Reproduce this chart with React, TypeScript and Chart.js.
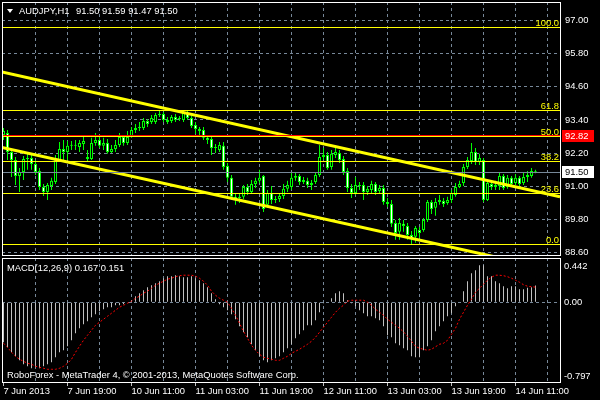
import React, { useEffect, useRef } from "react";
import { Chart, registerables } from "chart.js";

Chart.register(...registerables);

const FONT = "'Liberation Sans', Arial, sans-serif";
const FS = 9.4;

const symbolTitle = "AUDJPY,H1";

// H1 candles, 7 Jun 2013 03:00 ... 14 Jun 2013
const openP = [
  92.85, 92.93, 92.24, 91.95, 91.37, 91.51, 91.98, 92.02, 91.80, 91.55,
  90.97, 90.79, 91.00, 91.15, 91.95, 92.35, 92.24, 92.46, 92.46, 92.42,
  92.53, 92.06, 91.98, 92.56, 92.67, 92.46, 92.56, 92.24, 92.35, 92.49,
  92.78, 92.56, 92.82, 93.04, 93.11, 93.11, 93.36, 93.33, 93.33, 93.58,
  93.62, 93.40, 93.36, 93.51, 93.43, 93.40, 93.65, 93.47, 93.22, 93.07,
  93.04, 92.75, 92.71, 92.38, 92.31, 92.46, 91.73, 91.30, 90.61, 90.57,
  90.61, 90.97, 90.79, 91.08, 91.19, 91.37, 90.32, 90.75, 90.50, 90.53,
  90.64, 90.90, 90.97, 91.30, 91.37, 91.15, 91.19, 91.04, 91.15, 91.40,
  92.06, 92.13, 91.69, 92.13, 92.20, 91.98, 91.55, 90.93, 90.75, 91.04,
  91.04, 90.79, 90.86, 91.08, 90.82, 90.93, 90.42, 90.35, 89.66, 89.34,
  89.63, 89.55, 89.23, 89.16, 89.41, 89.41, 89.77, 90.42, 90.21, 90.42,
  90.46, 90.39, 90.50, 90.68, 90.97, 91.11, 91.69, 91.91, 92.24, 91.88,
  91.95, 90.50, 91.08, 90.97, 91.00, 91.37, 90.97, 91.30, 91.11, 91.30,
  91.11, 91.33, 91.37, 91.50,
];
const highP = [
  93.11, 93.04, 92.31, 92.06, 91.66, 92.09, 92.24, 92.13, 91.95, 91.66,
  91.08, 91.11, 91.30, 92.13, 92.60, 92.67, 92.64, 92.64, 92.67, 92.67,
  92.78, 92.31, 92.75, 92.93, 92.78, 92.75, 92.71, 92.49, 92.67, 92.93,
  92.85, 93.00, 93.14, 93.25, 93.33, 93.47, 93.43, 93.58, 93.65, 93.76,
  93.69, 93.51, 93.58, 93.62, 93.54, 93.73, 93.76, 93.54, 93.33, 93.14,
  93.14, 92.85, 92.78, 92.53, 92.60, 92.60, 91.84, 91.40, 90.75, 90.71,
  91.04, 91.08, 91.22, 91.30, 91.59, 91.40, 90.86, 91.00, 90.64, 90.75,
  91.08, 91.19, 91.51, 91.51, 91.44, 91.33, 91.30, 91.22, 91.51, 92.49,
  92.38, 92.24, 92.31, 92.38, 92.31, 92.09, 91.66, 91.08, 91.33, 91.15,
  91.15, 91.00, 91.19, 91.15, 91.04, 91.04, 90.57, 90.50, 89.77, 89.84,
  89.77, 89.66, 89.37, 89.55, 89.52, 89.84, 90.50, 90.50, 90.57, 90.68,
  90.57, 90.61, 90.86, 91.11, 91.19, 91.80, 92.06, 92.56, 92.38, 92.17,
  92.02, 91.22, 91.22, 91.19, 91.48, 91.44, 91.40, 91.37, 91.44, 91.37,
  91.51, 91.55, 91.66, 91.59,
];
const lowP = [
  92.67, 91.95, 91.33, 91.04, 90.79, 91.22, 91.59, 91.59, 91.40, 90.86,
  90.64, 90.50, 90.86, 91.08, 91.88, 91.95, 91.95, 92.31, 92.31, 92.24,
  92.31, 91.88, 91.95, 92.46, 92.38, 92.31, 92.17, 92.20, 92.24, 92.42,
  92.46, 92.49, 92.75, 92.93, 93.00, 93.04, 93.14, 93.25, 93.25, 93.51,
  93.33, 93.25, 93.29, 93.33, 93.36, 93.33, 93.40, 93.11, 92.89, 92.85,
  92.67, 92.53, 92.13, 92.20, 92.24, 91.59, 91.15, 90.50, 90.32, 90.39,
  90.53, 90.68, 90.71, 90.93, 91.11, 90.06, 90.21, 90.35, 90.39, 90.42,
  90.53, 90.79, 90.86, 91.19, 91.04, 91.08, 90.93, 90.86, 91.08, 91.33,
  91.95, 91.59, 91.59, 92.02, 91.84, 91.40, 90.79, 90.57, 90.68, 90.86,
  90.50, 90.68, 90.75, 90.68, 90.75, 90.32, 90.24, 89.52, 89.05, 89.05,
  89.34, 89.05, 88.90, 88.94, 89.12, 89.34, 89.70, 89.99, 89.92, 90.32,
  90.24, 90.32, 90.39, 90.61, 90.93, 91.00, 91.62, 91.80, 91.77, 91.77,
  90.42, 90.46, 90.86, 90.86, 90.86, 90.86, 90.90, 91.00, 91.04, 91.00,
  91.04, 91.15, 91.30, 91.47,
];
const closeP = [
  93.00, 92.24, 91.95, 91.37, 91.51, 91.98, 92.02, 91.80, 91.51, 90.97,
  90.79, 91.04, 91.19, 91.95, 92.35, 92.24, 92.46, 92.49, 92.49, 92.56,
  92.64, 91.98, 92.56, 92.67, 92.46, 92.56, 92.24, 92.35, 92.49, 92.78,
  92.56, 92.78, 93.04, 93.11, 93.14, 93.36, 93.25, 93.47, 93.58, 93.62,
  93.40, 93.33, 93.51, 93.40, 93.47, 93.65, 93.47, 93.18, 93.07, 93.00,
  92.75, 92.67, 92.38, 92.42, 92.49, 91.69, 91.30, 90.61, 90.53, 90.61,
  90.97, 90.79, 91.08, 91.19, 91.30, 90.17, 90.75, 90.50, 90.53, 90.64,
  90.90, 91.04, 91.30, 91.37, 91.15, 91.22, 91.04, 91.11, 91.40, 92.06,
  92.13, 91.66, 92.17, 92.24, 91.95, 91.51, 90.93, 90.75, 91.04, 91.00,
  90.79, 90.90, 91.08, 90.79, 90.93, 90.42, 90.35, 89.63, 89.30, 89.66,
  89.55, 89.23, 89.12, 89.48, 89.30, 89.77, 90.42, 90.17, 90.42, 90.50,
  90.35, 90.50, 90.75, 90.97, 91.08, 91.69, 91.95, 92.24, 91.88, 92.02,
  90.50, 91.11, 90.97, 91.04, 91.37, 90.93, 91.30, 91.08, 91.30, 91.08,
  91.33, 91.40, 91.55, 91.50,
];

// MACD(12,26,9): main (histogram) and signal (dotted)
const macdMain = [
  -0.40, -0.45, -0.50, -0.54, -0.58, -0.62, -0.64, -0.66, -0.65, -0.66,
  -0.64, -0.62, -0.60, -0.55, -0.50, -0.48, -0.44, -0.38, -0.31, -0.26,
  -0.22, -0.19, -0.15, -0.12, -0.09, -0.07, -0.05, -0.05, -0.03, -0.03,
  -0.02, 0.00, 0.02, 0.06, 0.09, 0.12, 0.15, 0.17, 0.19, 0.21,
  0.24, 0.26, 0.26, 0.27, 0.26, 0.25, 0.25, 0.26, 0.24, 0.22,
  0.19, 0.15, 0.09, 0.03, -0.02, -0.05, -0.08, -0.12, -0.17, -0.24,
  -0.30, -0.35, -0.42, -0.48, -0.54, -0.58, -0.60, -0.58, -0.56, -0.54,
  -0.50, -0.46, -0.42, -0.36, -0.32, -0.28, -0.23, -0.23, -0.18, -0.10,
  -0.01, 0.00, 0.04, 0.09, 0.11, 0.09, 0.02, -0.01, -0.04, -0.08,
  -0.11, -0.14, -0.14, -0.16, -0.18, -0.24, -0.33, -0.35, -0.41, -0.43,
  -0.46, -0.48, -0.54, -0.55, -0.55, -0.48, -0.44, -0.38, -0.29, -0.24,
  -0.19, -0.14, -0.11, -0.04, 0.00, 0.11, 0.21, 0.29, 0.32, 0.37,
  0.37, 0.26, 0.26, 0.21, 0.19, 0.16, 0.14, 0.16, 0.16, 0.13,
  0.13, 0.145, 0.15, 0.167,
];
const macdSignal = [
  -0.41, -0.45, -0.50, -0.54, -0.57, -0.59, -0.61, -0.62, -0.64, -0.65,
  -0.66, -0.67, -0.67, -0.67, -0.66, -0.64, -0.61, -0.57, -0.50, -0.44,
  -0.38, -0.33, -0.28, -0.23, -0.20, -0.17, -0.14, -0.11, -0.08, -0.05,
  -0.03, -0.01, 0.01, 0.04, 0.06, 0.09, 0.11, 0.14, 0.17, 0.19,
  0.21, 0.23, 0.24, 0.255, 0.265, 0.27, 0.27, 0.27, 0.26, 0.24,
  0.21, 0.17, 0.11, 0.07, 0.04, 0.02, 0.00, -0.06, -0.13, -0.21,
  -0.29, -0.36, -0.43, -0.48, -0.52, -0.55, -0.56, -0.57, -0.58, -0.58,
  -0.56, -0.54, -0.51, -0.49, -0.47, -0.445, -0.42, -0.39, -0.35, -0.30,
  -0.25, -0.20, -0.15, -0.10, -0.06, -0.03, 0.01, 0.02, 0.02, 0.02,
  0.02, 0.00, -0.03, -0.07, -0.10, -0.13, -0.17, -0.20, -0.23, -0.26,
  -0.295, -0.34, -0.39, -0.44, -0.46, -0.47, -0.48, -0.47, -0.445, -0.42,
  -0.41, -0.38, -0.32, -0.26, -0.17, -0.10, -0.03, 0.03, 0.10, 0.14,
  0.18, 0.22, 0.25, 0.27, 0.27, 0.265, 0.255, 0.24, 0.22, 0.20,
  0.175, 0.16, 0.155, 0.151,
];

const priceTicks = [88.6, 89.8, 91.0, 92.2, 93.4, 94.6, 95.8, 97.0];
const macdTicks = [0.442, 0, -0.797];
const timeLabels = [
  "7 Jun 2013", "7 Jun 19:00", "10 Jun 11:00", "11 Jun 03:00", "11 Jun 19:00",
  "12 Jun 11:00", "13 Jun 03:00", "13 Jun 19:00", "14 Jun 11:00",
];
const timeLabelBars = [0, 16, 32, 48, 64, 80, 96, 112, 128];
const gridBars = [8, 16, 24, 32, 40, 48, 56, 64, 72, 80, 88, 96, 104, 112, 120, 128, 136];

const fibLevels = [0, 23.6, 38.2, 50, 61.8, 100];
const fibLow = 88.9;
const fibHigh = 96.76;
const redLevel = 92.82;
const bidLevel = 91.5;

const channelUpper = [
  { x: -0.375, y: 95.14 },
  { x: 139.125, y: 90.61 },
];
const channelLower = [
  { x: -0.375, y: 92.4 },
  { x: 139.125, y: 87.91 },
];

const X_MIN = -0.375;
const X_MAX = 139.125;
const GRID = "#778899";

function zeroPad(s: any) {
  s.paddingTop = 0;
  s.paddingBottom = 0;
  s.paddingLeft = 0;
  s.paddingRight = 0;
}

const mainOverlay = {
  id: "mainOverlay",
  afterDatasetsDraw(chart: any) {
    const { ctx, chartArea: a, scales } = chart;
    const ys = scales.y;
    ctx.save();
    ctx.beginPath();
    ctx.rect(a.left, a.top, a.right - a.left, a.bottom - a.top);
    ctx.clip();
    ctx.lineWidth = 1;
    ctx.font = `${FS}px ${FONT}`;
    ctx.textAlign = "right";
    ctx.textBaseline = "alphabetic";
    fibLevels.forEach((lv) => {
      const price = fibLow + ((fibHigh - fibLow) * lv) / 100;
      const py = Math.round(ys.getPixelForValue(price)) + 0.5;
      ctx.strokeStyle = "#FFFF00";
      ctx.beginPath();
      ctx.moveTo(a.left, py);
      ctx.lineTo(a.right, py);
      ctx.stroke();
      ctx.fillStyle = "#FFFF00";
      ctx.fillText(lv.toFixed(1), a.right - 1, py - 2);
    });
    const ry = Math.round(ys.getPixelForValue(redLevel)) - 0.5;
    ctx.strokeStyle = "#FF0000";
    ctx.beginPath();
    ctx.moveTo(a.left, ry);
    ctx.lineTo(a.right, ry);
    ctx.stroke();
    const by = Math.round(ys.getPixelForValue(bidLevel)) + 0.5;
    ctx.strokeStyle = GRID;
    ctx.beginPath();
    ctx.moveTo(a.left, by);
    ctx.lineTo(a.right, by);
    ctx.stroke();
    ctx.restore();

    ctx.save();
    ctx.strokeStyle = "#FFFFFF";
    ctx.lineWidth = 1;
    ctx.strokeRect(a.left + 0.5, a.top + 0.5, a.right - a.left, a.bottom - a.top);
    ctx.font = `${FS}px ${FONT}`;
    ctx.textAlign = "left";
    ctx.textBaseline = "middle";
    const boxes = [
      { v: redLevel, bg: "#FF0000", fg: "#FFFFFF" },
      { v: bidLevel, bg: "#FFFFFF", fg: "#000000" },
    ];
    boxes.forEach((b) => {
      const cy = ys.getPixelForValue(b.v);
      ctx.fillStyle = b.bg;
      ctx.fillRect(a.right + 2, Math.round(cy) - 6, 32, 12);
      ctx.fillStyle = b.fg;
      ctx.fillText(b.v.toFixed(2), a.right + 5, Math.round(cy) + 0.5);
    });
    ctx.fillStyle = "#FFFFFF";
    ctx.beginPath();
    ctx.moveTo(a.left + 5, a.top + 7);
    ctx.lineTo(a.left + 11, a.top + 7);
    ctx.lineTo(a.left + 8, a.top + 11);
    ctx.closePath();
    ctx.fill();
    ctx.textBaseline = "alphabetic";
    const n = closeP.length - 1;
    ctx.fillText(symbolTitle, a.left + 17, a.top + 12);
    ctx.fillText(
      [openP[n], highP[n], lowP[n], closeP[n]].map((v) => v.toFixed(2)).join(" "),
      a.left + 74,
      a.top + 12
    );
    ctx.restore();
  },
};

const macdOverlay = {
  id: "macdOverlay",
  afterDatasetsDraw(chart: any) {
    const { ctx, chartArea: a, scales } = chart;
    const ys = scales.y;
    ctx.save();
    ctx.strokeStyle = "#FFFFFF";
    ctx.lineWidth = 1;
    ctx.strokeRect(a.left + 0.5, a.top + 0.5, a.right - a.left, a.bottom - a.top);
    ctx.font = `${FS}px ${FONT}`;
    ctx.fillStyle = "#FFFFFF";
    ctx.textAlign = "left";
    macdTicks.forEach((v) => {
      const py = ys.getPixelForValue(v);
      const txt = v === 0 ? "0.00" : String(v);
      if (v === ys.max) {
        ctx.textBaseline = "alphabetic";
        ctx.fillText(txt, a.right + 4, py + 10.5);
      } else if (v === ys.min) {
        ctx.textBaseline = "alphabetic";
        ctx.fillText(txt, a.right + 4, py - 3.5);
      } else {
        ctx.textBaseline = "middle";
        ctx.fillText(txt, a.right + 4, Math.round(py) + 0.5);
      }
    });
    ctx.textBaseline = "alphabetic";
    const n = macdMain.length - 1;
    ctx.fillText(
      `MACD(12,26,9) ${macdMain[n].toFixed(3)} ${macdSignal[n].toFixed(3)}`,
      a.left + 5,
      a.top + 12.5
    );
    ctx.fillText(
      "RoboForex - MetaTrader 4, \u00A9 2001-2013, MetaQuotes Software Corp.",
      a.left + 5,
      a.bottom - 4
    );
    ctx.restore();
  },
};

export default function App() {
  const mainRef = useRef<HTMLCanvasElement>(null);
  const macdRef = useRef<HTMLCanvasElement>(null);

  useEffect(() => {
    document.body.style.margin = "0";
    document.body.style.background = "#000";

    const bodyData = closeP.map((c, i) => ({ x: i, y: [openP[i], c] }));
    const wickData = closeP.map((_, i) => ({ x: i, y: [lowP[i], highP[i]] }));
    const bodyFill = closeP.map((c, i) => (c >= openP[i] ? "#000000" : "#FFFFFF"));

    const mainChart = new Chart(mainRef.current as HTMLCanvasElement, {
      type: "bar",
      data: {
        datasets: [
          {
            type: "line",
            data: channelUpper,
            borderColor: "#FFFF00",
            borderWidth: 3,
            pointRadius: 0,
            order: 0,
            clip: 0,
          } as any,
          {
            type: "line",
            data: channelLower,
            borderColor: "#FFFF00",
            borderWidth: 3,
            pointRadius: 0,
            order: 0,
            clip: 0,
          } as any,
          {
            type: "bar",
            data: bodyData,
            backgroundColor: bodyFill,
            borderColor: "#00FF00",
            borderWidth: 1,
            borderSkipped: false,
            barThickness: 3,
            minBarLength: 1,
            grouped: false,
            inflateAmount: 0,
            order: 1,
          } as any,
          {
            type: "bar",
            data: wickData,
            backgroundColor: "#00FF00",
            borderWidth: 0,
            barThickness: 1,
            grouped: false,
            inflateAmount: 0,
            order: 2,
          } as any,
        ],
      },
      options: {
        animation: false,
        responsive: false,
        devicePixelRatio: 1,
        events: [],
        layout: { padding: { left: 2, top: 2, right: 0, bottom: 2 } },
        plugins: { legend: { display: false }, tooltip: { enabled: false } },
        scales: {
          x: {
            type: "linear",
            min: X_MIN,
            max: X_MAX,
            offset: false,
            bounds: "data",
            afterBuildTicks: (s: any) => {
              s.ticks = gridBars.map((v) => ({ value: v }));
            },
            afterFit: (s: any) => {
              s.height = 0;
              zeroPad(s);
            },
            ticks: { display: false },
            grid: { color: GRID, drawTicks: false, offset: false },
            border: { display: false, dash: [3, 3] },
          },
          y: {
            position: "right",
            min: 88.5,
            max: 97.68,
            bounds: "data",
            afterBuildTicks: (s: any) => {
              s.ticks = priceTicks.map((v) => ({ value: v }));
            },
            afterFit: (s: any) => {
              s.width = 40;
              zeroPad(s);
            },
            ticks: {
              color: "#FFFFFF",
              font: { family: FONT, size: FS },
              padding: 5,
              callback: (v: any) => Number(v).toFixed(2),
            },
            grid: { color: GRID, drawTicks: false },
            border: { display: false, dash: [3, 3] },
          },
        },
      } as any,
      plugins: [mainOverlay],
    });

    const macdChart = new Chart(macdRef.current as HTMLCanvasElement, {
      type: "bar",
      data: {
        datasets: [
          {
            type: "line",
            data: macdSignal.map((v, i) => ({ x: i, y: v })),
            borderColor: "#FF0000",
            borderWidth: 1,
            borderDash: [2, 2],
            pointRadius: 0,
            order: 0,
            clip: 0,
          } as any,
          {
            type: "bar",
            data: macdMain.map((v, i) => ({ x: i, y: v })),
            backgroundColor: "#C0C0C0",
            borderWidth: 0,
            barThickness: 1,
            grouped: false,
            inflateAmount: 0,
            order: 1,
          } as any,
        ],
      },
      options: {
        animation: false,
        responsive: false,
        devicePixelRatio: 1,
        events: [],
        layout: { padding: { left: 2, top: 1, right: 0, bottom: 0 } },
        plugins: { legend: { display: false }, tooltip: { enabled: false } },
        scales: {
          x: {
            type: "linear",
            min: X_MIN,
            max: X_MAX,
            offset: false,
            bounds: "data",
            afterBuildTicks: (s: any) => {
              s.ticks = [0, ...gridBars].map((v) => ({ value: v }));
            },
            afterFit: (s: any) => {
              s.height = 18;
              zeroPad(s);
            },
            ticks: {
              autoSkip: false,
              maxRotation: 0,
              minRotation: 0,
              align: "start",
              padding: 0,
              color: "#FFFFFF",
              font: { family: FONT, size: FS },
              callback: (v: any) => {
                const k = timeLabelBars.indexOf(Number(v));
                return k >= 0 ? timeLabels[k] : "";
              },
            },
            grid: {
              color: (c: any) => (c.tick && c.tick.value === 0 ? "rgba(0,0,0,0)" : GRID),
              tickColor: (c: any) =>
                c.tick && timeLabelBars.indexOf(c.tick.value) >= 0 ? "#C0C0C0" : "rgba(0,0,0,0)",
              tickLength: 4,
              offset: false,
            },
            border: { display: false, dash: [3, 3] },
          },
          y: {
            position: "right",
            min: -0.797,
            max: 0.442,
            bounds: "data",
            afterBuildTicks: (s: any) => {
              s.ticks = [{ value: 0 }];
            },
            afterFit: (s: any) => {
              s.width = 40;
              zeroPad(s);
            },
            ticks: { display: false },
            grid: { color: GRID, drawTicks: false },
            border: { display: false, dash: [3, 3] },
          },
        },
      } as any,
      plugins: [macdOverlay],
    });

    return () => {
      mainChart.destroy();
      macdChart.destroy();
    };
  }, []);

  return (
    <div style={{ position: "relative", width: 600, height: 400, background: "#000", overflow: "hidden" }}>
      <canvas
        ref={mainRef}
        width={600}
        height={257}
        style={{ position: "absolute", left: 0, top: 0, width: 600, height: 257 }}
      />
      <canvas
        ref={macdRef}
        width={600}
        height={143}
        style={{ position: "absolute", left: 0, top: 257, width: 600, height: 143 }}
      />
    </div>
  );
}
